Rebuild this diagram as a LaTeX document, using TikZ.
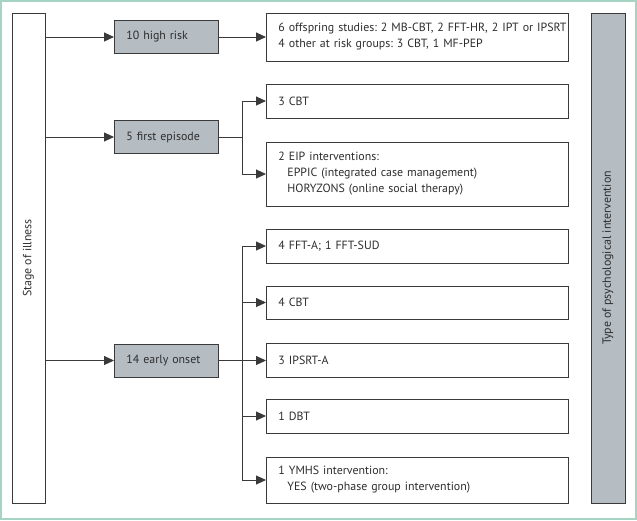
\documentclass[tikz,border=0pt]{standalone}
\usepackage{fontspec}
\setmainfont{PT Sans}
\usepackage{tikz}
\usetikzlibrary{arrows.meta}
\definecolor{framegreen}{HTML}{A6D4C2}
\definecolor{boxgray}{HTML}{B5BCC2}
\definecolor{linegray}{HTML}{3A3A3A}
\definecolor{textgray}{HTML}{2E2E2E}
\frenchspacing
\hyphenpenalty=10000
\hbadness=10000
\hfuzz=30pt
\tikzset{
  stagebox/.style={draw=linegray, line width=0.9pt, rectangle, inner sep=0pt, text=textgray},
  greybox/.style={stagebox, fill=boxgray, minimum width=104pt, minimum height=33pt, text width=80pt, inner xsep=12pt, align=left, anchor=west},
  outbox/.style={stagebox, fill=white, text width=278pt, inner xsep=12pt, align=left, anchor=west},
  arr/.style={draw=linegray, line width=0.9pt, -{Triangle[length=10pt,width=9pt]}},
  conn/.style={draw=linegray, line width=0.9pt}
}
\begin{document}
\begin{tikzpicture}[x=1pt, y=-1pt, font=\fontsize{11.9}{16}\selectfont]
					\useasboundingbox (0,0) rectangle (637,520);
					\draw[framegreen, line width=2pt] (1,1) rectangle (636,519);
					%Assi laterali
					\node [stagebox, minimum width=33pt, minimum height=490pt] (stage) at (28.5,258) {\rotatebox{90}{Stage of illness}};
					\node [stagebox, fill=boxgray, minimum width=34pt, minimum height=490pt] (tipo) at (608,258) {\rotatebox{90}{Type of psychological intervention}};
					%Stadi
					\node [greybox] (hr) at (114,37) {10 high risk};
					\node [greybox] (fe) at (114,137) {5 first episode};
					\node [greybox] (eo) at (114,360.5) {14 early onset};
					%Interventi
					\node [outbox, minimum height=48pt] (r1) at (266,37) {\mbox{6 offspring studies: 2 MB-CBT, 2 FFT-HR, 2 IPT or IPSRT}\\4 other at risk groups: 3 CBT, 1 MF-PEP};
					\node [outbox, minimum height=34pt] (r2) at (266,101) {3 CBT};
					\node [outbox, minimum height=64pt] (r3) at (266,174) {2 EIP interventions:\\\hspace*{9pt}EPPIC (integrated case management)\\\hspace*{9pt}HORYZONS (online social therapy)};
					\node [outbox, minimum height=34pt] (r4) at (266,246) {4 FFT-A; 1 FFT-SUD};
					\node [outbox, minimum height=33pt] (r5) at (266,302.5) {4 CBT};
					\node [outbox, minimum height=34pt] (r6) at (266,360.5) {3 IPSRT-A};
					\node [outbox, minimum height=34pt] (r7) at (266,416) {1 DBT};
					\node [outbox, minimum height=46pt] (r8) at (266,480) {1 YMHS intervention:\\\hspace*{9pt}YES (two-phase group intervention)};
					%Frecce
					\draw [arr] (stage.east |- hr.west) -- (hr.west);
					\draw [arr] (stage.east |- fe.west) -- (fe.west);
					\draw [arr] (stage.east |- eo.west) -- (eo.west);
					\draw [arr] (hr.east) -- (r1.west);
					\coordinate (fej) at (242,137);
					\draw [conn] (fe.east) -- (fej);
					\draw [arr] (fej) |- (r2.west);
					\draw [arr] (fej) |- (r3.west);
					\coordinate (eoj) at (242,360.5);
					\draw [arr] (eo.east) -- (r6.west);
					\draw [arr] (eoj) |- (r4.west);
					\draw [arr] (eoj) |- (r5.west);
					\draw [arr] (eoj) |- (r7.west);
					\draw [arr] (eoj) |- (r8.west);
\end{tikzpicture}
\end{document}
